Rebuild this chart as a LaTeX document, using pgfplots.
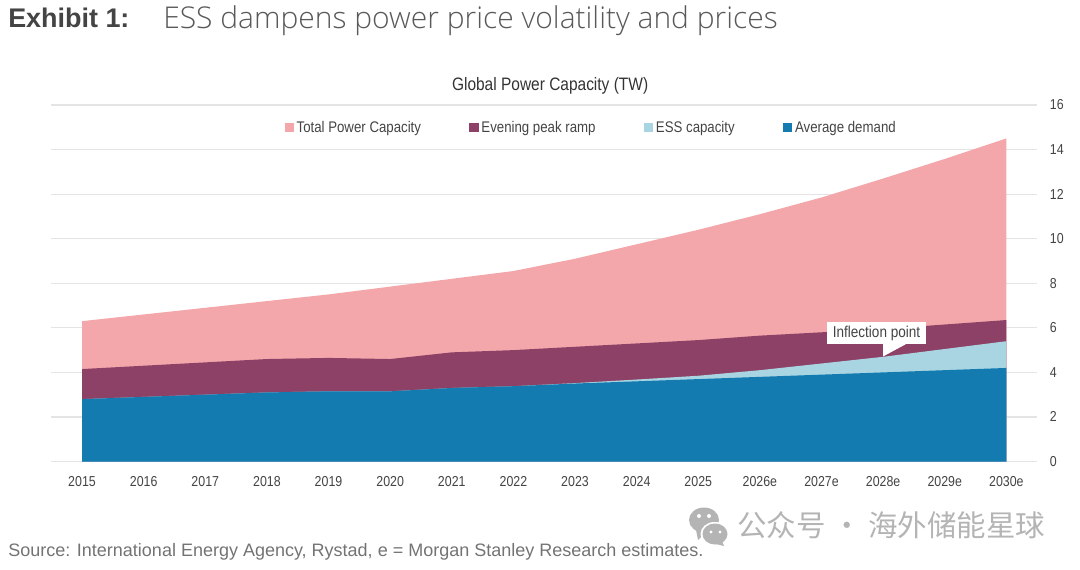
\documentclass[border=0pt]{standalone}
\usepackage{fontspec}
\setmainfont{Liberation Sans}
\newfontfamily\cond[FakeStretch=0.86]{Liberation Sans}
\newfontfamily\headfont{Open Sans Light}[BoldFont={Open Sans}]
\newfontfamily\cjk{Noto Sans CJK SC}
\usepackage{pgfplots}
\pgfplotsset{compat=1.18}
\usepackage{pgfplotstable}
\definecolor{totalc}{HTML}{F4A7AA}
\definecolor{peakc}{HTML}{8D4166}
\definecolor{essc}{HTML}{A9D5E2}
\definecolor{demandc}{HTML}{147BB1}
\definecolor{gridc}{HTML}{E4E4E4}
\definecolor{labelc}{HTML}{444444}
\definecolor{wmc}{HTML}{B4B4B4}
% cumulative tops of each area, TW
\pgfplotstableread{
x total peak ess demand
0 6.30 4.15 2.80 2.80
1 6.60 4.30 2.90 2.90
2 6.90 4.45 3.00 3.00
3 7.20 4.60 3.10 3.10
4 7.50 4.65 3.15 3.15
5 7.85 4.60 3.15 3.15
6 8.20 4.90 3.30 3.30
7 8.55 5.00 3.38 3.38
8 9.10 5.15 3.52 3.50
9 9.75 5.30 3.68 3.60
10 10.40 5.45 3.85 3.70
11 11.10 5.65 4.10 3.80
12 11.85 5.80 4.40 3.90
13 12.70 5.95 4.70 4.00
14 13.58 6.15 5.05 4.10
15 14.50 6.35 5.40 4.20
}\capacity
\begin{document}
\begin{tikzpicture}
\path[use as bounding box] (0,0) rectangle (810pt,426.75pt);
\begin{axis}[
  at={(38.4pt,80.6pt)}, anchor=south west,
  scale only axis,
  width=739.5pt, height=267.4pt,
  xmin=-0.5, xmax=15.5,
  ymin=0, ymax=16,
  axis line style={draw=none},
  major tick length=0pt,
  ymajorgrids,
  grid style={gridc, line width=0.9pt},
  xtick={0,...,15},
  xticklabels={2015,2016,2017,2018,2019,2020,2021,2022,2023,2024,2025,2026e,2027e,2028e,2029e,2030e},
  ytick={0,2,...,16},
  yticklabel pos=right,
  /pgf/number format/assume math mode=true,
  tick label style={font=\cond\fontsize{10.8}{12}\selectfont, text=labelc},
  xticklabel style={yshift=-7.7pt},
  yticklabel style={xshift=6pt},
  title={Global Power Capacity (TW)},
  title style={font=\cond\fontsize{13.5}{14}\selectfont, text=black!80, at={(0.506,1)}, anchor=south, yshift=-1.5pt},
  legend style={
    at={(0.548,0.9365)}, anchor=center, draw=none, fill=none,
    font=\cond\fontsize{11.55}{12}\selectfont, text=labelc,
    /tikz/every even column/.append style={column sep=34.3pt},
    legend columns=4, inner sep=0pt,
  },
  legend image code/.code={
    \fill[#1] (0pt,-3.4pt) rectangle (7pt,3.4pt);
  },
  clip=false,
]
\addplot[draw=none, fill=totalc] table[x=x,y=total] {\capacity} \closedcycle;
\addlegendentry{Total Power Capacity}
\addplot[draw=none, fill=peakc] table[x=x,y=peak] {\capacity} \closedcycle;
\addlegendentry{Evening peak ramp}
\addplot[draw=none, fill=essc] table[x=x,y=ess] {\capacity} \closedcycle;
\addlegendentry{ESS capacity}
\addplot[draw=none, fill=demandc] table[x=x,y=demand] {\capacity} \closedcycle;
\addlegendentry{Average demand}
\end{axis}
\begin{scope}[shift={(0pt,426.75pt)}, x=0.75pt, y=-0.75pt]
% callout
\fill[white] (827,322) rectangle (926,344);
\fill[white] (883,343) -- (883,356.5) -- (908,343) -- cycle;
\node[font=\cond\fontsize{11.8}{12}\selectfont, text=labelc] at (876.5,333) {Inflection point};
% header and source
\node[anchor=base west, inner sep=0pt, text=labelc, font=\fontsize{20.2}{24}\selectfont\bfseries] at (8,28) {Exhibit 1:};
\node[anchor=base west, inner sep=0pt, text=black!65, font=\headfont\fontsize{22.5}{24}\selectfont] at (163,29) {ESS dampens power price volatility and prices};
\node[anchor=base west, inner sep=0pt, text=black!55, font=\fontsize{13.5}{15}\selectfont] at (8,556) {Source: International Energy Agency, Rystad, e = Morgan Stanley Research estimates.};
% watermark
\fill[wmc] (704,520) ellipse (15 and 12.5);
\fill[wmc] (696,530) -- (698,540) -- (706,532) -- cycle;
\fill[white] (714.5,534) ellipse (14 and 12);
\fill[wmc] (715,534) ellipse (12.5 and 10.5);
\fill[wmc] (722,541) -- (724,546) -- (716,544) -- cycle;
\fill[white] (699,516) circle (2) (709,516) circle (2) (711,532) circle (1.6) (720,532) circle (1.6);
\node[anchor=base west, inner sep=0pt, text=wmc, font=\cjk\fontsize{22.1}{24}\selectfont] at (737,536) {公众号 · 海外储能星球};
\end{scope}
\end{tikzpicture}
\end{document}
